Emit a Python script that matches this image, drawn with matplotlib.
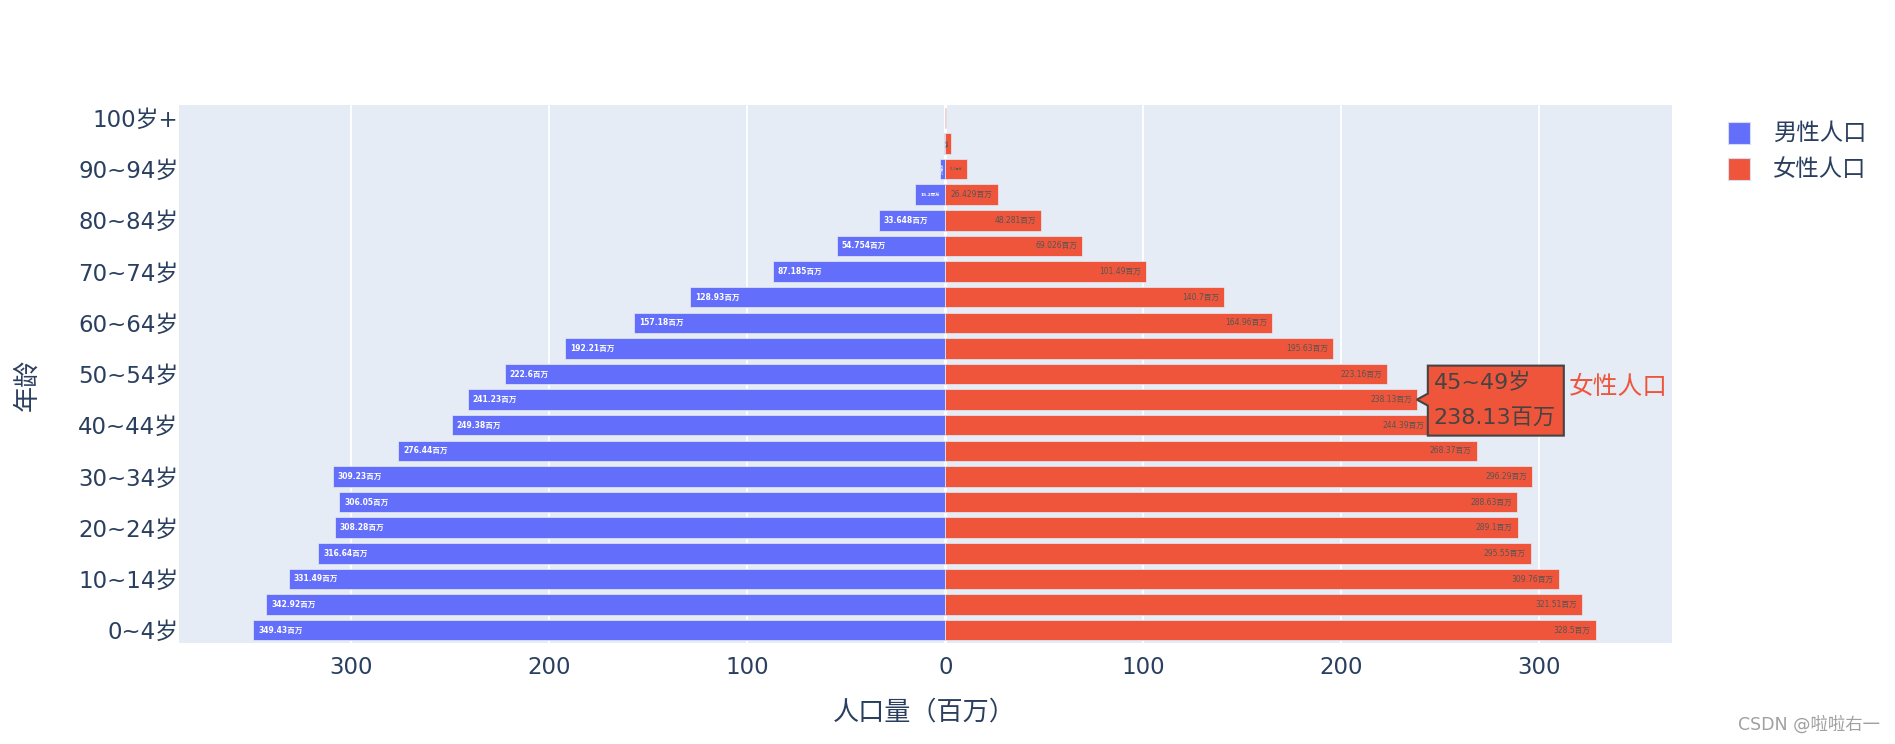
import matplotlib
matplotlib.use("Agg")
import matplotlib.pyplot as plt
from matplotlib.patches import Polygon, Rectangle
import numpy as np

plt.rcParams['font.family'] = ['DejaVu Sans', 'Noto Sans CJK SC']

ages = ['0~4岁', '5~9岁', '10~14岁', '15~19岁', '20~24岁', '25~29岁', '30~34岁',
        '35~39岁', '40~44岁', '45~49岁', '50~54岁', '55~59岁', '60~64岁', '65~69岁',
        '70~74岁', '75~79岁', '80~84岁', '85~89岁', '90~94岁', '95~99岁', '100岁+']
male = [349.43, 342.92, 331.49, 316.64, 308.28, 306.05, 309.23, 276.44, 249.38, 241.23,
        222.6, 192.21, 157.18, 128.93, 87.185, 54.754, 33.648, 15.2, 2.9, 0.85, 0.1]
female = [328.5, 321.51, 309.76, 295.55, 289.1, 288.63, 296.29, 268.37, 244.39, 238.13,
          223.16, 195.63, 164.96, 140.7, 101.49, 69.026, 48.281, 26.429, 11.1, 3.0, 0.4]
series_names = ['男性人口', '女性人口']
x_ticks = [-300, -200, -100, 0, 100, 200, 300]
hover_idx = 9

BLUE = '#636EFA'
RED = '#EF553B'
BG = '#E5ECF6'
TXT = '#2a3f5f'

W, H = 1895, 744
fig = plt.figure(figsize=(W / 100, H / 100), dpi=100)
fig.patch.set_facecolor('white')

L, R, T, B = 179, 1672, 105, 643
ax = fig.add_axes([L / W, 1 - B / H, (R - L) / W, (B - T) / H])
ax.set_facecolor(BG)
for s in ax.spines.values():
    s.set_visible(False)

xmin, xmax = -387, 367
ax.set_xlim(xmin, xmax)
ax.set_ylim(-0.5, len(ages) - 0.5)
px_per_unit = (R - L) / (xmax - xmin)

y = np.arange(len(ages))
male_neg = [-v for v in male]
ax.set_axisbelow(True)
ax.grid(axis='x', color='white', linewidth=1.3)
ax.axvline(0, color='white', linewidth=2.2, zorder=1)

ax.barh(y, male_neg, height=0.8, color=BLUE, edgecolor=BG, linewidth=0.5, zorder=2)
ax.barh(y, female, height=0.8, color=RED, edgecolor=BG, linewidth=0.5, zorder=2)

ax.set_xticks(x_ticks)
ax.set_xticklabels([str(abs(t)) for t in x_ticks])
ax.set_yticks(y[::2])
ax.set_yticklabels(ages[::2])
ax.tick_params(axis='both', length=0, labelsize=16.5, labelcolor=TXT)
ax.tick_params(axis='x', pad=9)
ax.tick_params(axis='y', pad=0.5)

base_fs = 5.5
need_px = 46.0


def bar_label(v, yi, sign, color):
    wpx = v * px_per_unit
    if wpx < 2:
        return
    txt = f"{v:.5g}百万"
    pad = 5 / px_per_unit
    if wpx >= need_px:
        fs, rot = base_fs, 0
    elif wpx >= 14:
        fs, rot = base_fs * (wpx - 4) / need_px, 0
    else:
        fs, rot = 2.2, 90
    if rot == 90:
        ax.text(sign * v / 2, yi, txt, ha='center', va='center', rotation=90,
                fontsize=fs, color=color, zorder=3)
    elif sign < 0:
        ax.text(-v + pad, yi, txt, ha='left', va='center', fontsize=fs,
                color=color, zorder=3, fontweight='bold')
    else:
        ax.text(v - pad, yi, txt, ha='right', va='center', fontsize=fs,
                color=color, zorder=3)


for i in range(len(ages)):
    bar_label(male[i], i, -1, 'white')
    bar_label(female[i], i, 1, '#555555')

# axis titles
fig.text(924 / W, 1 - 712 / H, '人口量（百万）', ha='center', va='center',
         fontsize=18.8, color=TXT)
fig.text(27 / W, 1 - 385 / H, '年龄', ha='center', va='center', rotation=90,
         fontsize=18.8, color=TXT)

# legend
for k, (name, col) in enumerate(zip(series_names, [BLUE, RED])):
    yc = 133 + 36 * k
    fig.patches.append(Rectangle(((1728) / W, 1 - (yc + 11) / H), 22 / W, 22 / H,
                                 transform=fig.transFigure, facecolor=col,
                                 edgecolor='#d8dcef', linewidth=0.8))
    fig.text(1773 / W, 1 - yc / H, name, ha='left', va='center', fontsize=16.8,
             color=TXT)


# hover tooltip
def fx(px):
    return px / W


def fy(py):
    return 1 - py / H


anchor_x = L + (female[hover_idx] - xmin) * px_per_unit
anchor_y = B - (hover_idx + 0.5) * (B - T) / len(ages)
bx0 = anchor_x + 11
bx1 = bx0 + 136
by0 = anchor_y - 34
by1 = anchor_y + 36
poly = [(bx0, by0), (bx1, by0), (bx1, by1), (bx0, by1), (bx0, anchor_y + 6),
        (anchor_x, anchor_y), (bx0, anchor_y - 6)]
fig.patches.append(Polygon([(fx(a), fy(b)) for a, b in poly], closed=True,
                           transform=fig.transFigure, facecolor=RED,
                           edgecolor='#444444', linewidth=1.5, zorder=10))
fig.text(fx(bx0 + 6), fy(anchor_y - 17), ages[hover_idx], ha='left', va='center',
         fontsize=16, color='#444444', zorder=11)
fig.text(fx(bx0 + 6), fy(anchor_y + 18), f"{female[hover_idx]:.5g}百万", ha='left',
         va='center', fontsize=16, color='#444444', zorder=11)
fig.text(fx(bx1 + 5), fy(anchor_y - 13), series_names[1], ha='left', va='center',
         fontsize=17.8, color=RED, zorder=11)

# watermark
fig.text(1880 / W, 1 - 725 / H, 'CSDN @啦啦右一', ha='right', va='center',
         fontsize=12.5, color='#a0a0a0')

fig.savefig('out.png', dpi=100, facecolor='white')
